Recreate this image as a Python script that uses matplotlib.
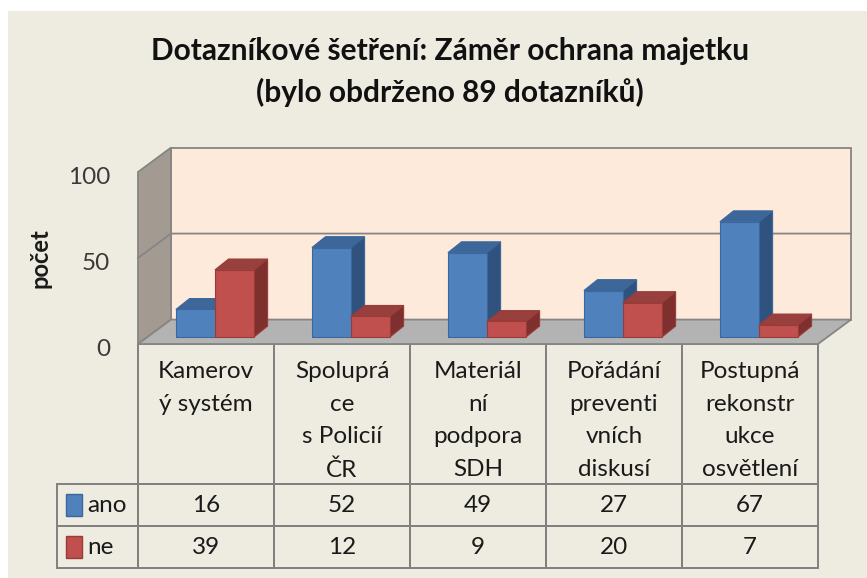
import matplotlib
matplotlib.use("Agg")
import matplotlib.pyplot as plt
from matplotlib.patches import Polygon, Rectangle
import matplotlib.transforms as mtransforms

plt.rcParams['font.family'] = ['Lato', 'DejaVu Sans']

# ---- data ----
categories = ["Kamerov\ný systém", "Spoluprá\nce\ns Policií\nČR", "Materiál\nní\npodpora\nSDH",
              "Pořádání\npreventi\nvních\ndiskusí", "Postupná\nrekonstr\nukce\nosvětlení"]
series_names = ["ano", "ne"]
ano = [16, 52, 49, 27, 67]
ne = [39, 12, 9, 20, 7]
yticks = [0, 50, 100]
title = "Dotazníkové šetření: Záměr ochrana majetku\n(bylo obdrženo 89 dotazníků)"
ylabel = "počet"

# ---- styles ----
BG = '#EEEBE0'
WALL = '#FDEADA'
SIDEWALL = '#A39A92'
FLOOR = '#B3B3B3'
EDGE = '#858585'
blue = dict(front='#4F81BD', top='#3D6699', side='#30527F', edge='#3A679C')
red = dict(front='#C0504D', top='#97403D', side='#7E302E', edge='#9A3B38')
FS = 17.5

W, H = 867, 578
AXW, AXH = 680, 172
fig = plt.figure(figsize=(W / 100, H / 100), dpi=100)
fig.patch.set_facecolor('white')
fig.patches.append(Rectangle((8 / W, 0), 1 - 8 / W, 1 - 11 / H, transform=fig.transFigure,
                             facecolor=BG, edgecolor='none', zorder=-10))

ax = fig.add_axes([138 / W, (H - 344) / H, AXW / W, AXH / H])
ax.set_xlim(-0.5, 4.5)
ax.set_ylim(0, 100)
ax.patch.set_visible(False)
for s in ax.spines.values():
    s.set_visible(False)
ax.set_xticks([])
ax.set_yticks(yticks)
ax.tick_params(axis='y', length=0, pad=20, labelsize=FS, labelcolor='#3A3A3A')
off = mtransforms.ScaledTranslation(0, -3.5 / 100, fig.dpi_scale_trans)
for lbl in ax.get_yticklabels():
    lbl.set_transform(lbl.get_transform() + off)

n = len(ano)
dxw, dyw = 0.243, 14.2   # wall depth
x0, x1 = -0.5, n - 0.5
ymax = yticks[-1]

# back wall
ax.add_patch(Polygon([(x0 + dxw, dyw), (x1 + dxw, dyw), (x1 + dxw, ymax + dyw), (x0 + dxw, ymax + dyw)],
                     closed=True, facecolor=WALL, edgecolor=EDGE, lw=1.3, clip_on=False, zorder=1))
# left wall
ax.add_patch(Polygon([(x0, 0), (x0 + dxw, dyw), (x0 + dxw, ymax + dyw), (x0, ymax)],
                     closed=True, facecolor=SIDEWALL, edgecolor=EDGE, lw=1.3, clip_on=False, zorder=1))
# gridlines
for t in yticks[1:-1]:
    ax.plot([x0, x0 + dxw, x1 + dxw], [t, t + dyw, t + dyw], color=EDGE, lw=1.3, clip_on=False, zorder=1.5)
# floor
ax.add_patch(Polygon([(x0, 0), (x1, 0), (x1 + dxw, dyw), (x0 + dxw, dyw)],
                     closed=True, facecolor=FLOOR, edgecolor=EDGE, lw=1.3, clip_on=False, zorder=2))

# bars
bw = 0.287
fx, fy = 0.066, 4.1
bdx, bdy = 0.10, 6.3


def bar3d(xl, v, c, z):
    xr = xl + bw
    ax.add_patch(Polygon([(xr, fy), (xr + bdx, fy + bdy), (xr + bdx, fy + v + bdy), (xr, fy + v)],
                         closed=True, facecolor=c['side'], edgecolor=c['edge'], lw=0.8, clip_on=False, zorder=z))
    ax.add_patch(Polygon([(xl, fy + v), (xr, fy + v), (xr + bdx, fy + v + bdy), (xl + bdx, fy + v + bdy)],
                         closed=True, facecolor=c['top'], edgecolor=c['edge'], lw=0.8, clip_on=False, zorder=z))
    ax.add_patch(Polygon([(xl, fy), (xr, fy), (xr, fy + v), (xl, fy + v)],
                         closed=True, facecolor=c['front'], edgecolor=c['edge'], lw=0.8, clip_on=False, zorder=z))


for i in range(n):
    bar3d(i + fx - bw, ano[i], blue, 3 + i * 0.1)
    bar3d(i + fx, ne[i], red, 3.05 + i * 0.1)

# data table
cell_text = [[str(v) for v in ano], [str(v) for v in ne]]
tab = ax.table(cellText=cell_text, rowLabels=['', ''], colLabels=[''] * n,
               cellLoc='center', bbox=[0, -224 / AXH, 1, 224 / AXH])
if -1 in tab._autoColumns:
    tab._autoColumns.remove(-1)
tab.auto_set_font_size(False)
tab.set_fontsize(FS)
for (r, c), cell in tab.get_celld().items():
    cell.set_edgecolor('#808080')
    cell.set_linewidth(1.4)
    cell.set_facecolor('none')
    cell.set_height((140 if r == 0 else 42) / AXH)
    cell.set_width((81 if c == -1 else 136) / AXW)
    cell.get_text().set_color('#1A1A1A')

trans = mtransforms.blended_transform_factory(ax.transData, ax.transAxes)
for i, lab in enumerate(categories):
    ax.text(i, -17 / AXH, lab, transform=trans, ha='center', va='top', multialignment='center',
            fontsize=FS, color='#1A1A1A', linespacing=1.68)

# row labels with legend keys
for k, (name, c) in enumerate(zip(series_names, [blue, red])):
    yc = (344 - (505 + 42 * k)) / AXH
    ax.add_patch(Rectangle(((66 - 138) / AXW, yc - 11 / AXH), 16 / AXW, 22 / AXH, transform=ax.transAxes,
                           facecolor=c['front'], edgecolor=c['edge'], lw=1.0, clip_on=False, zorder=5))
    ax.text((87 - 138) / AXW, yc, name, transform=ax.transAxes, ha='left', va='center',
            fontsize=FS, color='#1A1A1A')

fig.text(40 / W, 1 - 258 / H, ylabel, rotation=90, ha='center', va='center',
         fontsize=17, fontweight='bold', color='#1A1A1A')
fig.text(450 / W, 1 - 72 / H, title, ha='center', va='center', fontsize=21.5, fontweight='bold',
         color='#111111', linespacing=1.5)

fig.savefig('out.png', dpi=100, facecolor=fig.get_facecolor())
